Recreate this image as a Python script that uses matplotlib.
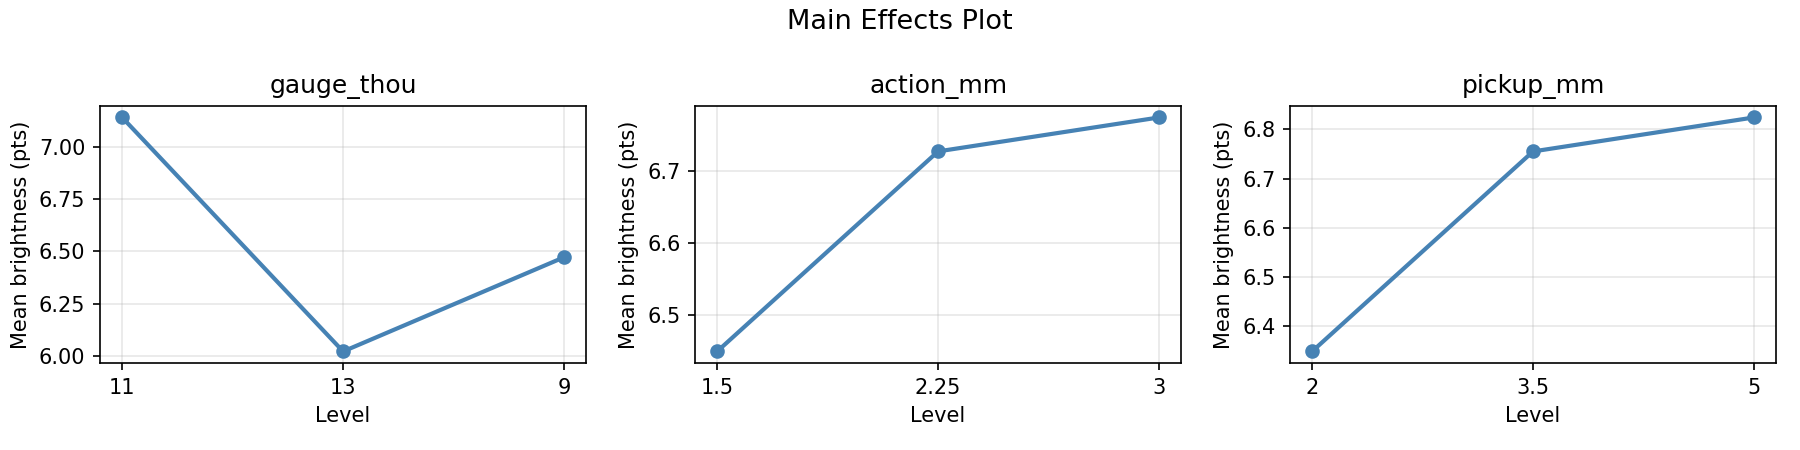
import matplotlib
matplotlib.use("Agg")
import matplotlib.pyplot as plt

factors = ["gauge_thou", "action_mm", "pickup_mm"]
levels = [["11", "13", "9"], ["1.5", "2.25", "3"], ["2", "3.5", "5"]]
means = [[7.14, 6.022, 6.472], [6.45, 6.727, 6.774], [6.349, 6.755, 6.824]]

fig, axes = plt.subplots(1, 3, figsize=(12, 3), dpi=150)
for ax, name, lv, mv in zip(axes, factors, levels, means):
    ax.plot(lv, mv, marker="o", color="steelblue", linewidth=2, markersize=6)
    ax.set_title(name)
    ax.set_xlabel("Level")
    ax.set_ylabel("Mean brightness (pts)")
    ax.grid(True, alpha=0.3)
fig.suptitle("Main Effects Plot", fontsize=13)
fig.subplots_adjust(left=0.0556, right=0.9867, bottom=0.193, top=0.765, wspace=0.224)
fig.savefig("out.png", dpi=150)
